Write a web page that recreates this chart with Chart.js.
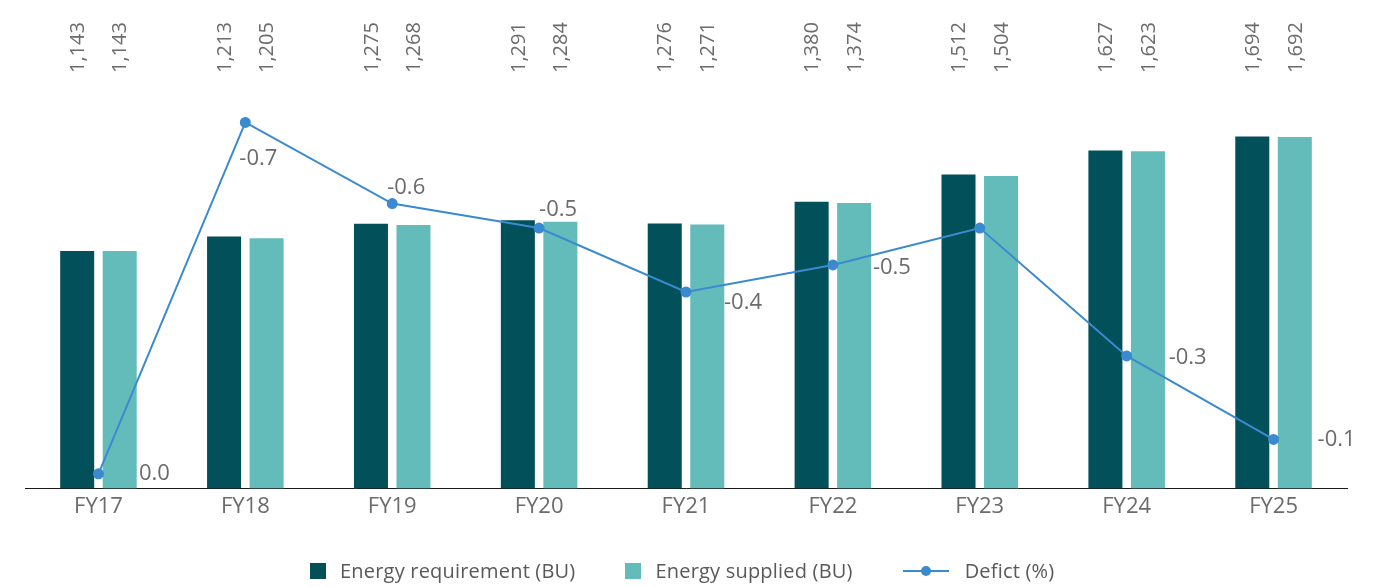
<!DOCTYPE html>
<html lang="en">
<head>
  <meta charset="UTF-8">
  <title>Energy requirement vs supplied</title>
  <script src="https://cdn.jsdelivr.net/npm/chart.js"></script>
  <style>
    body {
      margin: 0;
      background: #fff;
      font-family: 'Open Sans', sans-serif;
    }
    .wrap {
      position: relative;
      width: 1382px;
      height: 587px;
    }
    /* legend under the chart */
    .legend {
      position: absolute;
      left: 310px;
      top: 557px;
      display: flex;
      align-items: center;
      font-size: 20px;
      letter-spacing: 0.2px;
      color: #595959;
      white-space: nowrap;
    }
    .legend .item {
      display: flex;
      align-items: center;
      margin-right: 50px;
    }
    .legend .box {
      width: 16px;
      height: 16px;
      margin-right: 14px;
    }
    .legend .line {
      position: relative;
      width: 46px;
      height: 2px;
      margin-right: 16px;
      background: #3b8ad0;
    }
    .legend .line::after {
      content: '';
      position: absolute;
      left: 18px;
      top: -4px;
      width: 10px;
      height: 10px;
      border-radius: 50%;
      background: #3b8ad0;
    }
  </style>
</head>
<body>

<div class="wrap">
  <canvas id="energyChart" width="1382" height="587"></canvas>
  <div class="legend">
    <div class="item"><span class="box" style="background:#02505a"></span>Energy requirement (BU)</div>
    <div class="item"><span class="box" style="background:#63bcba"></span>Energy supplied (BU)</div>
    <div class="item"><span class="line"></span>Defict (%)</div>
  </div>
</div>

<script>
  // 연도별 데이터
  const years = ['FY17', 'FY18', 'FY19', 'FY20', 'FY21', 'FY22', 'FY23', 'FY24', 'FY25'];
  const requirement = [1143, 1213, 1275, 1291, 1276, 1380, 1512, 1627, 1694];
  const supplied = [1143, 1205, 1268, 1284, 1271, 1374, 1504, 1623, 1692];
  const deficit = [-0.03, -0.745, -0.58, -0.53, -0.40, -0.455, -0.53, -0.27, -0.10];

  // deficit 라벨 위치 (점 기준 dx, dy), null 이면 표시 안 함
  const deficitLabelOffset = [[56, 0], [13, 36], [14, -16], [19, -18], [57, 11], [59, 3], null, [61, 2], [63, 0]];

  const BAR_MAX = 2000;
  const PX_PER_UNIT = 0.208;   // 막대 축
  const PX_PER_PCT = 492;      // deficit 축
  const DEFICIT_MIN = -BAR_MAX * PX_PER_UNIT / PX_PER_PCT;

  const textColor = '#6b6b6b';
  const fontFamily = "'Open Sans', sans-serif";

  const fmtPct = v => {
    const s = v.toFixed(1);
    return s === '-0.0' ? '0.0' : s;
  };

  // 막대 위쪽 세로 숫자 라벨
  const topValuePlugin = {
    id: 'topValues',
    afterDatasetsDraw(chart) {
      const { ctx } = chart;
      ctx.save();
      ctx.font = `20px ${fontFamily}`;
      ctx.fillStyle = textColor;
      ctx.textAlign = 'left';
      ctx.textBaseline = 'middle';
      [0, 1].forEach(di => {
        const meta = chart.getDatasetMeta(di);
        meta.data.forEach((bar, i) => {
          const v = chart.data.datasets[di].data[i];
          ctx.save();
          ctx.translate(bar.x + 1, 73);
          ctx.rotate(-Math.PI / 2);
          ctx.fillText(v.toLocaleString('en-US'), 0, 0);
          ctx.restore();
        });
      });
      ctx.restore();
    }
  };

  // deficit 점 옆 라벨
  const deficitLabelPlugin = {
    id: 'deficitLabels',
    afterDatasetsDraw(chart) {
      const { ctx } = chart;
      const meta = chart.getDatasetMeta(2);
      ctx.save();
      ctx.font = `22px ${fontFamily}`;
      ctx.fillStyle = textColor;
      ctx.textAlign = 'center';
      ctx.textBaseline = 'middle';
      meta.data.forEach((pt, i) => {
        const off = deficitLabelOffset[i];
        if (!off) return;
        ctx.fillText(fmtPct(deficit[i]), pt.x + off[0], pt.y + off[1]);
      });
      ctx.restore();
    }
  };

  const ctx = document.getElementById('energyChart').getContext('2d');
  new Chart(ctx, {
    data: {
      labels: years,
      datasets: [
        {
          type: 'bar',
          label: 'Energy requirement (BU)',
          data: requirement,
          backgroundColor: '#02505a',
          categoryPercentage: 0.579,
          barPercentage: 0.8,
          yAxisID: 'y',
          order: 2
        },
        {
          type: 'bar',
          label: 'Energy supplied (BU)',
          data: supplied,
          backgroundColor: '#63bcba',
          categoryPercentage: 0.579,
          barPercentage: 0.8,
          yAxisID: 'y',
          order: 2
        },
        {
          type: 'line',
          label: 'Defict (%)',
          data: deficit,
          borderColor: '#3b8ad0',
          backgroundColor: '#3b8ad0',
          borderWidth: 2,
          pointRadius: 4.5,
          pointHoverRadius: 4.5,
          tension: 0,
          yAxisID: 'y2',
          order: 1
        }
      ]
    },
    options: {
      responsive: false,
      animation: false,
      layout: {
        padding: { left: 25, right: 35, top: 73, bottom: 62 }
      },
      plugins: {
        legend: { display: false },
        tooltip: { enabled: false }
      },
      scales: {
        x: {
          grid: { display: false, drawTicks: false },
          border: { display: true, color: '#1a1a1a', width: 1 },
          ticks: {
            color: textColor,
            font: { family: fontFamily, size: 22 },
            padding: 5
          }
        },
        y: {
          display: false,
          min: 0,
          max: BAR_MAX
        },
        y2: {
          display: false,
          reverse: true,
          min: DEFICIT_MIN,
          max: 0
        }
      }
    },
    plugins: [topValuePlugin, deficitLabelPlugin]
  });
</script>

</body>
</html>
